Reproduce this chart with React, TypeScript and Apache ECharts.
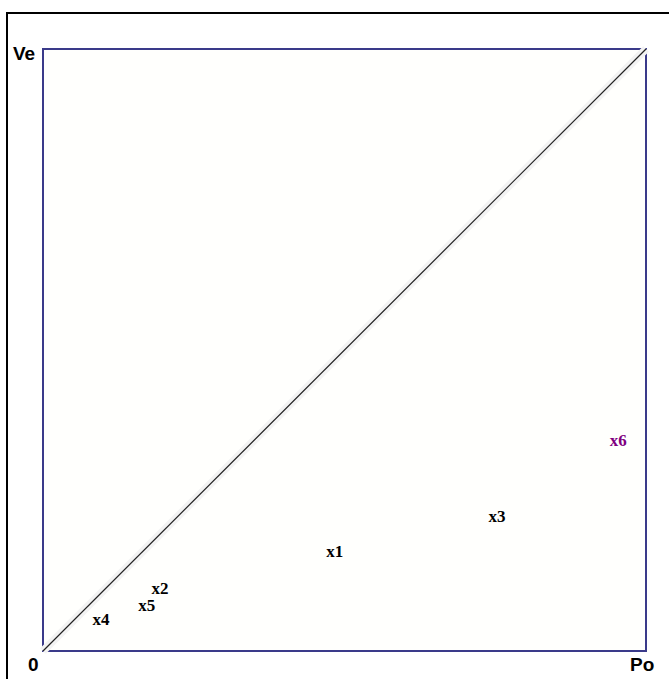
import React, { useEffect, useRef } from "react";
import * as echarts from "echarts";

const pointNames = ["x1", "x2", "x3", "x4", "x5", "x6"];
const poValues = [0.484, 0.194, 0.753, 0.096, 0.172, 0.954];
const veValues = [0.166, 0.103, 0.223, 0.053, 0.076, 0.349];
const pointColors = ["#000000", "#000000", "#000000", "#000000", "#000000", "#800080"];
const diagonal = [
  [0, 0],
  [1, 1],
];

export default function App() {
  const ref = useRef<HTMLDivElement>(null);
  useEffect(() => {
    if (!ref.current) return;
    const chart = echarts.init(ref.current, undefined, { renderer: "svg" });
    const pts = pointNames.map((n, i) => ({
      name: n,
      value: [poValues[i], veValues[i]],
      label: { color: pointColors[i] },
    }));
    chart.setOption({
      animation: false,
      backgroundColor: "#ffffff",
      grid: {
        left: 43,
        top: 49,
        width: 603,
        height: 602,
        show: true,
        backgroundColor: "#fffffd",
        borderColor: "#3a3a8a",
        borderWidth: 2,
      },
      xAxis: {
        type: "value",
        min: 0,
        max: 1,
        axisLine: { show: false },
        axisTick: { show: false },
        axisLabel: { show: false },
        splitLine: { show: false },
      },
      yAxis: {
        type: "value",
        min: 0,
        max: 1,
        axisLine: { show: false },
        axisTick: { show: false },
        axisLabel: { show: false },
        splitLine: { show: false },
      },
      graphic: [
        {
          type: "rect",
          shape: { x: 7, y: 13, width: 720, height: 720 },
          style: { fill: "none", stroke: "#000000", lineWidth: 2 },
          silent: true,
        },
        {
          type: "text",
          x: 13,
          y: 44,
          style: {
            text: "Ve",
            font: "bold 19px 'Liberation Sans', Arial, sans-serif",
            fill: "#000000",
          },
        },
        {
          type: "text",
          x: 28,
          y: 655,
          style: {
            text: "0",
            font: "bold 19px 'Liberation Sans', Arial, sans-serif",
            fill: "#000000",
          },
        },
        {
          type: "text",
          x: 630,
          y: 655,
          style: {
            text: "Po",
            font: "bold 19px 'Liberation Sans', Arial, sans-serif",
            fill: "#000000",
          },
        },
      ],
      series: [
        {
          type: "line",
          data: diagonal,
          symbol: "none",
          silent: true,
          lineStyle: { color: "#f3f3f3", width: 8 },
          z: 1,
        },
        {
          type: "line",
          data: diagonal,
          symbol: "none",
          silent: true,
          lineStyle: { color: "#222222", width: 1.2 },
          z: 2,
        },
        {
          type: "scatter",
          data: pts,
          symbolSize: 0,
          z: 3,
          itemStyle: { opacity: 1 },
          label: {
            show: true,
            position: "inside",
            formatter: "{b}",
            fontFamily: "'Liberation Serif', 'Times New Roman', serif",
            fontWeight: "bold",
            fontSize: 17,
            opacity: 1,
            textBorderWidth: 0,
            textShadowBlur: 0,
          },
        },
      ],
    });
    return () => chart.dispose();
  }, []);
  return (
    <div
      ref={ref}
      style={{ position: "absolute", left: 0, top: 0, width: 669, height: 679 }}
    />
  );
}
